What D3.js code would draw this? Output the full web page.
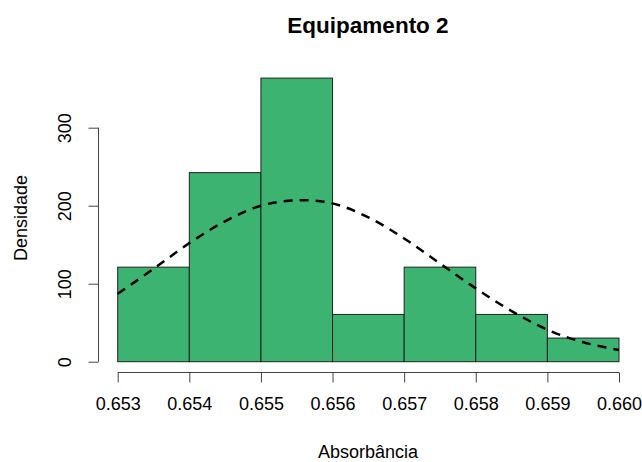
<!DOCTYPE html>
<html>
<head>
<meta charset="utf-8">
<script src="https://cdn.jsdelivr.net/npm/d3@7"></script>
<style>
  body { margin: 0; background: #fff; }
  text { font-family: "Liberation Sans", Arial, sans-serif; fill: #000; }
</style>
</head>
<body>
<div id="chart"></div>
<script>
// Data
const binEdges = [0.653, 0.654, 0.655, 0.656, 0.657, 0.658, 0.659, 0.660]
const densities = [121.2, 242.4, 363.6, 60.6, 121.2, 60.6, 30.3]
const curveX = [0.6530, 0.6535, 0.6540, 0.6545, 0.6550, 0.6555, 0.6560, 0.6565,
  0.6570, 0.6575, 0.6580, 0.6585, 0.6590, 0.6595, 0.6600]
const curveY = [87, 119, 152, 180, 200, 207, 203, 185, 158, 126, 94, 65, 41, 25, 15]
const xTicks = [0.653, 0.654, 0.655, 0.656, 0.657, 0.658, 0.659, 0.660]
const yTicks = [0, 100, 200, 300]

// Dimensions
const width = 642
const height = 462
const barFill = "#3CB371"
const fontSize = "18px"

const svg = d3.select("#chart")
  .append("svg")
    .attr("width", width)
    .attr("height", height)

const x = d3.scaleLinear().domain([0.653, 0.660]).range([117.7, 619])
const y = d3.scaleLinear().domain([0, 300]).range([361.7, 127.7])

const bins = densities.map(function(d, i) {
  return {x0: binEdges[i], x1: binEdges[i + 1], density: d}
})

svg.selectAll(".bar")
    .data(bins)
    .enter().append("rect")
    .attr("class", "bar")
    .attr("x", function(d) { return x(d.x0) })
    .attr("y", function(d) { return y(d.density) })
    .attr("width", function(d) { return x(d.x1) - x(d.x0) })
    .attr("height", function(d) { return y(0) - y(d.density) })
    .attr("fill", barFill)
    .attr("stroke", "#222")
    .attr("stroke-width", 1)

const line = d3.line()
  .x(function(d, i) { return x(curveX[i]) })
  .y(function(d) { return y(d) })
  .curve(d3.curveCatmullRom)

svg.append("path")
    .datum(curveY)
    .attr("d", line)
    .attr("fill", "none")
    .attr("stroke", "#000")
    .attr("stroke-width", 2.5)
    .attr("stroke-dasharray", "9,7")

// x axis
const xAxis = svg.append("g")
    .attr("transform", "translate(0,372.5)")
    .call(d3.axisBottom(x).tickValues(xTicks).tickSize(10).tickPadding(15)
      .tickFormat(d3.format(".3f")))
xAxis.select(".domain").attr("stroke", "#444").attr("d", "M" + x(0.653) + ",0H" + x(0.660))
xAxis.selectAll(".tick line").attr("stroke", "#444")
xAxis.selectAll(".tick text").style("font-size", fontSize).attr("fill", "#222")

// y axis
const yAxis = svg.append("g")
    .attr("transform", "translate(98.5,0)")
    .call(d3.axisLeft(y).tickValues(yTicks).tickSize(10))
yAxis.select(".domain").attr("stroke", "#444").attr("d", "M0," + y(0) + "V" + y(300))
yAxis.selectAll(".tick line").attr("stroke", "#444")
yAxis.selectAll(".tick text")
    .attr("x", null)
    .attr("text-anchor", "middle")
    .attr("transform", "translate(-33.5,0) rotate(-90)")
    .attr("dy", "0.35em")
    .style("font-size", fontSize).attr("fill", "#222")

// titles
svg.append("text")
    .attr("x", 368)
    .attr("y", 33)
    .attr("text-anchor", "middle")
    .style("font-size", "22.5px")
    .style("font-weight", "bold")
    .text("Equipamento 2")

svg.append("text")
    .attr("x", 368)
    .attr("y", 458)
    .attr("text-anchor", "middle")
    .style("font-size", fontSize)
    .attr("fill", "#222")
    .text("Absorbância")

svg.append("text")
    .attr("transform", "translate(27,218) rotate(-90)")
    .attr("text-anchor", "middle")
    .style("font-size", fontSize)
    .attr("fill", "#222")
    .text("Densidade")
</script>
</body>
</html>
